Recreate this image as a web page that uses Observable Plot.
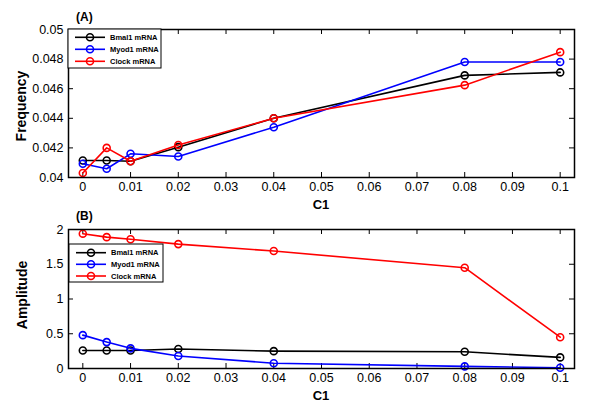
<!DOCTYPE html>
<html>
<head>
<meta charset="utf-8">
<script src="https://cdn.jsdelivr.net/npm/d3@7"></script>
<script src="https://cdn.jsdelivr.net/npm/@observablehq/plot@0.6"></script>
<style>
  html, body { margin: 0; padding: 0; background: white; }
  #wrap { position: relative; width: 600px; height: 410px; overflow: hidden; }
  #wrap > svg { position: absolute; left: 0; }
  #overlay { top: 0; pointer-events: none; }
</style>
</head>
<body>
<div id="wrap"></div>
<script>
// ---- data ----
const c1 = [0, 0.005, 0.01, 0.02, 0.04, 0.08, 0.1];
const seriesNames = ["Bmal1 mRNA", "Myod1 mRNA", "Clock mRNA"];
const seriesColors = ["black", "blue", "red"];

const freqBmal1 = [0.04115, 0.04115, 0.0411, 0.04205, 0.0440, 0.0469, 0.0471];
const freqMyod1 = [0.04093, 0.04059, 0.0416, 0.04142, 0.0434, 0.0478, 0.0478];
const freqClock = [0.0403, 0.0420, 0.0411, 0.0422, 0.0440, 0.04624, 0.04847];

const ampBmal1 = [0.26, 0.26, 0.26, 0.28, 0.25, 0.24, 0.16];
const ampMyod1 = [0.48, 0.38, 0.29, 0.18, 0.076, 0.03, 0.01];
const ampClock = [1.94, 1.89, 1.86, 1.79, 1.69, 1.45, 0.45];

const xTicks = [0, 0.01, 0.02, 0.03, 0.04, 0.05, 0.06, 0.07, 0.08, 0.09, 0.1];
const xTickLabels = ["0", "0.01", "0.02", "0.03", "0.04", "0.05", "0.06", "0.07", "0.08", "0.09", "0.1"];
const freqTicks = [0.04, 0.042, 0.044, 0.046, 0.048, 0.05];
const freqTickLabels = ["0.04", "0.042", "0.044", "0.046", "0.048", "0.05"];
const ampTicks = [0, 0.5, 1, 1.5, 2];
const ampTickLabels = ["0", "0.5", "1", "1.5", "2"];

// ---- helpers ----
function rows(arrays) {
  const out = [];
  arrays.forEach((arr, i) => arr.forEach((v, j) => out.push({ s: seriesNames[i], x: c1[j], v })));
  return out;
}

const FONT = "'Liberation Sans', Arial, Helvetica, sans-serif";
const W = 600, ML = 68, MR = 26;
const LW = 1.6;

function panel({ h, mt, mb, ydomain, yticks, ylabels, data }) {
  const innerW = W - ML - MR, innerH = h - mt - mb;
  const lineMarks = [];
  seriesNames.forEach(name => {
    const d = data.filter(r => r.s === name);
    lineMarks.push(Plot.line(d, { x: "x", y: "v", stroke: "s", strokeWidth: LW }));
    lineMarks.push(Plot.dot(d, { x: "x", y: "v", stroke: "s", r: 3.5, strokeWidth: LW, fill: "none" }));
  });
  return Plot.plot({
    width: W, height: h,
    marginLeft: ML, marginRight: MR, marginTop: mt, marginBottom: mb,
    style: { fontFamily: FONT, fontSize: "12.5px", background: "transparent", color: "black", overflow: "visible" },
    x: { domain: [-0.003, 0.103] },
    y: { domain: ydomain },
    color: { domain: seriesNames, range: seriesColors },
    marks: [
      Plot.axisX({ ticks: xTicks, anchor: "bottom", tickSize: 0, tickPadding: 5,
        tickFormat: (d) => xTickLabels[xTicks.indexOf(d)], label: null }),
      Plot.axisY({ ticks: yticks, anchor: "left", tickSize: 0, tickPadding: 5,
        tickFormat: (d) => ylabels[yticks.indexOf(d)], label: null }),
      Plot.tickX(xTicks, { x: d => d, insetTop: innerH - 5, stroke: "black" }),
      Plot.tickX(xTicks, { x: d => d, insetBottom: innerH - 5, stroke: "black" }),
      Plot.tickY(yticks, { y: d => d, insetRight: innerW - 5, stroke: "black" }),
      Plot.tickY(yticks, { y: d => d, insetLeft: innerW - 5, stroke: "black" }),
      ...lineMarks,
      Plot.frame({ stroke: "black", strokeWidth: 1.5 })
    ]
  });
}

const wrap = document.getElementById("wrap");

const topPanel = panel({ h: 200, mt: 29, mb: 23, ydomain: [0.04, 0.05], yticks: freqTicks, ylabels: freqTickLabels,
  data: rows([freqBmal1, freqMyod1, freqClock]) });
topPanel.style.top = "0px";
wrap.appendChild(topPanel);

const botPanel = panel({ h: 210, mt: 29, mb: 42, ydomain: [0, 2], yticks: ampTicks, ylabels: ampTickLabels,
  data: rows([ampBmal1, ampMyod1, ampClock]) });
botPanel.style.top = "200px";
wrap.appendChild(botPanel);

// ---- overlay: labels & legends ----
const outer = d3.select(wrap).append("svg").attr("id", "overlay")
  .attr("width", 600).attr("height", 410).style("position", "absolute").style("left", "0px").style("top", "0px");

const bold = (sel) => sel.attr("font-family", FONT).attr("font-weight", "bold").attr("fill", "black");
bold(outer.append("text")).attr("x", 76).attr("y", 21).attr("font-size", 12).text("(A)");
bold(outer.append("text")).attr("x", 76).attr("y", 220).attr("font-size", 12).text("(B)");
bold(outer.append("text")).attr("x", 321).attr("y", 209).attr("font-size", 13).attr("text-anchor", "middle").text("C1");
bold(outer.append("text")).attr("x", 321).attr("y", 400).attr("font-size", 13).attr("text-anchor", "middle").text("C1");
bold(outer.append("text")).attr("transform", "translate(26,106) rotate(-90)").attr("font-size", 14).attr("text-anchor", "middle").text("Frequency");
bold(outer.append("text")).attr("transform", "translate(27,295) rotate(-90)").attr("font-size", 14).attr("text-anchor", "middle").text("Amplitude");

function legend(x0, y0, w, h, ys) {
  const g = outer.append("g");
  g.append("rect").attr("x", x0).attr("y", y0).attr("width", w).attr("height", h)
    .attr("fill", "white").attr("stroke", "black").attr("stroke-width", 1);
  seriesNames.forEach((name, i) => {
    const y = y0 + ys[i];
    g.append("line").attr("x1", x0 + 7).attr("x2", x0 + 37).attr("y1", y).attr("y2", y)
      .attr("stroke", seriesColors[i]).attr("stroke-width", LW);
    g.append("circle").attr("cx", x0 + 22).attr("cy", y).attr("r", 3.5)
      .attr("fill", "none").attr("stroke", seriesColors[i]).attr("stroke-width", LW);
    bold(g.append("text")).attr("x", x0 + 42).attr("y", y + 2.7).attr("font-size", 7.5).text(name);
  });
}
legend(68, 29, 93, 39, [8.3, 20.3, 32.3]);
legend(69, 244, 94, 38, [8.7, 20.3, 32]);
</script>
</body>
</html>
